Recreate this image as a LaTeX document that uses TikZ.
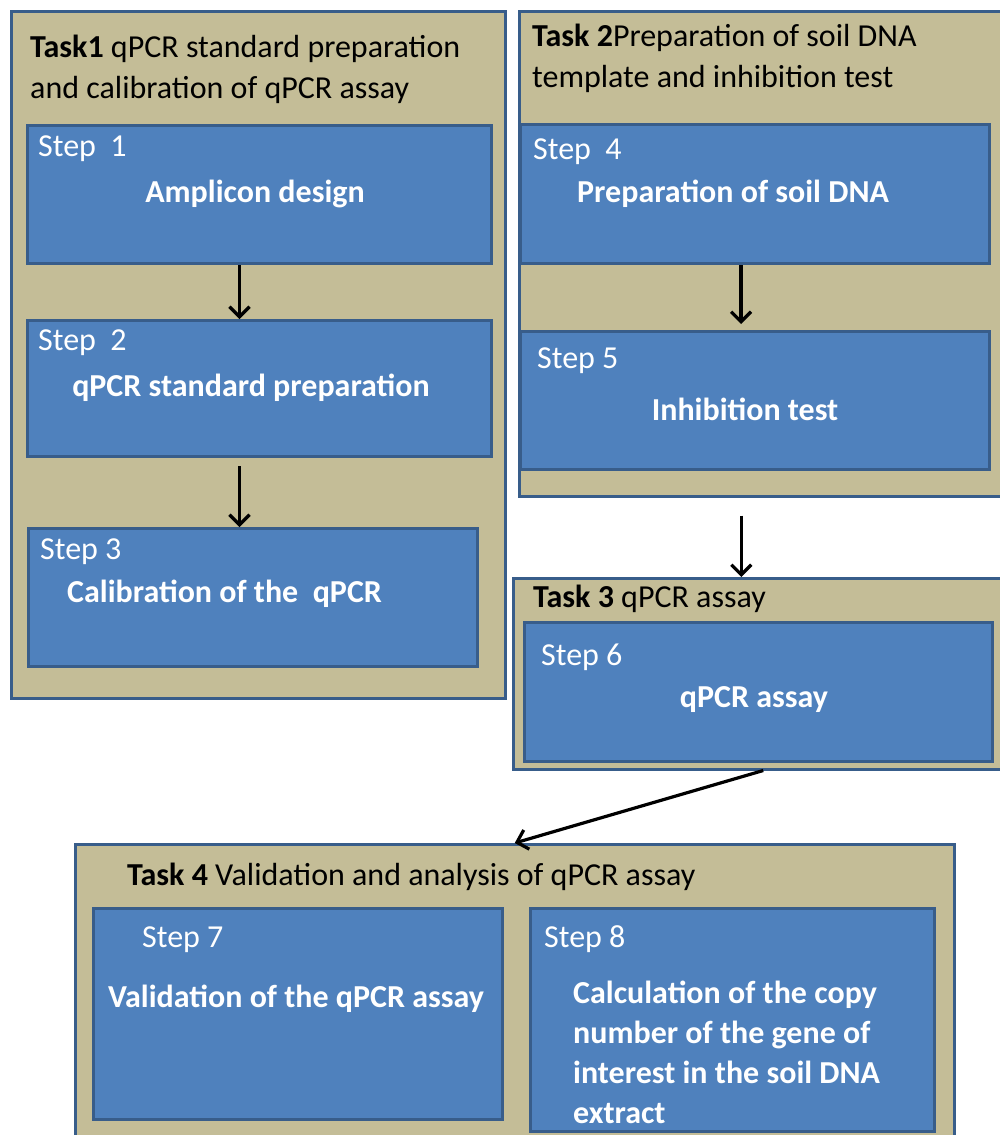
\documentclass[tikz,border=0pt]{standalone}
\usepackage{fontspec}
\setmainfont{Carlito}
\usetikzlibrary{arrows.meta,positioning}
\definecolor{taskfill}{HTML}{C4BD97}
\definecolor{stepfill}{HTML}{4F81BD}
\definecolor{boxline}{HTML}{385D8A}

\begin{document}
\begin{tikzpicture}[
    x=1pt, y=-1pt,
    task/.style={rectangle, draw=boxline, fill=taskfill, line width=2.5pt, anchor=north west, inner sep=0pt},
    stepbox/.style={rectangle, draw=boxline, fill=stepfill, line width=3pt, anchor=north west, inner sep=0pt},
    title/.style={anchor=base west, inner sep=0pt, align=left, font=\fontsize{32}{41}\selectfont},
    steplabel/.style={anchor=base west, inner sep=0pt, text=white, font=\fontsize{32}{40}\selectfont},
    stepname/.style={anchor=base, inner sep=0pt, text=white, font=\fontsize{32}{40}\selectfont\bfseries},
    arrow/.style={line width=3.2pt, -{Straight Barb[length=10pt,width=20pt]}}
]
    \useasboundingbox (0,0) rectangle (1000,1135);
    \clip (0,0) rectangle (1000,1135);

    % task frames
    \node[task, minimum width=494pt, minimum height=687pt] (task1) at (10,10) {};
    \node[task, minimum width=500pt, minimum height=485pt] (task2) at (518,10) {};
    \node[task, minimum width=500pt, minimum height=191pt] (task3) at (512,577) {};
    \node[task, minimum width=879pt, minimum height=320pt] (task4) at (74,843) {};

    % steps
    \node[stepbox, minimum width=464pt, minimum height=138pt] (step1) at (26,124) {};
    \node[stepbox, minimum width=464pt, minimum height=136pt] (step2) at (26,319) {};
    \node[stepbox, minimum width=449pt, minimum height=138pt] (step3) at (27,527) {};
    \node[stepbox, minimum width=469pt, minimum height=139pt] (step4) at (519,123) {};
    \node[stepbox, minimum width=469pt, minimum height=138pt] (step5) at (519,330) {};
    \node[stepbox, minimum width=468pt, minimum height=139pt] (step6) at (523,621) {};
    \node[stepbox, minimum width=409pt, minimum height=211pt] (step7) at (92,907) {};
    \node[stepbox, minimum width=404pt, minimum height=223pt] (step8) at (529,907) {};

    % titles (multi-line ones sit on their last baseline)
    \node[title] (title1) at (30,98) {\textbf{Task1} qPCR standard preparation\\and calibration of qPCR assay};
    \node[title] (title2) at (532,87) {\textbf{Task 2}Preparation of soil DNA\\template and inhibition test};
    \node[title] (title3) at (533,607) {\textbf{Task 3} qPCR assay};
    \node[title] (title4) at (127,885) {\textbf{Task 4} Validation and analysis of qPCR assay};

    % step texts
    \node[steplabel] (lab1) at (38,156) {Step\ \ 1};
    \node[stepname] (name1) at (255,202) {Amplicon design};
    \node[steplabel] (lab2) at (38,350) {Step\ \ 2};
    \node[stepname] (name2) at (251,396) {qPCR standard preparation};
    \node[steplabel] (lab3) at (40,559) {Step 3};
    \node[stepname, anchor=base west] (name3) at (67,602) {Calibration of the\ \ qPCR};
    \node[steplabel] (lab4) at (533,159) {Step\ \ 4};
    \node[stepname, anchor=base west] (name4) at (577,202) {Preparation of soil DNA};
    \node[steplabel] (lab5) at (537,368) {Step 5};
    \node[stepname] (name5) at (745,420) {Inhibition test};
    \node[steplabel] (lab6) at (541,665) {Step 6};
    \node[stepname] (name6) at (754,707) {qPCR assay};
    \node[steplabel] (lab7) at (142,947) {Step 7};
    \node[stepname] (name7) at (296,1007) {Validation of the qPCR assay};
    \node[steplabel] (lab8) at (544,947) {Step 8};
    \node[stepname, anchor=base west, align=left] (name8) at (573,1123) {Calculation of the copy\\number of the gene of\\interest in the soil DNA\\extract};

    % connectors
    \draw[arrow] ([xshift=-20pt]step1.south) -- ([xshift=-20pt]step1.south |- step2.north);
    \draw[arrow] ([xshift=-20pt,yshift=-8pt]step2.south) -- ([xshift=-20pt]step2.south |- step3.north);
    \draw[arrow] ([xshift=-14pt]step4.south) -- ([xshift=-14pt,yshift=6pt]step4.south |- step5.north);
    \draw[arrow] ([xshift=-28pt,yshift=-18pt]task2.south) -- ([xshift=-28pt]task2.south |- task3.north);
    \draw[arrow] (task3.south) -- (task4.north);
\end{tikzpicture}
\end{document}
